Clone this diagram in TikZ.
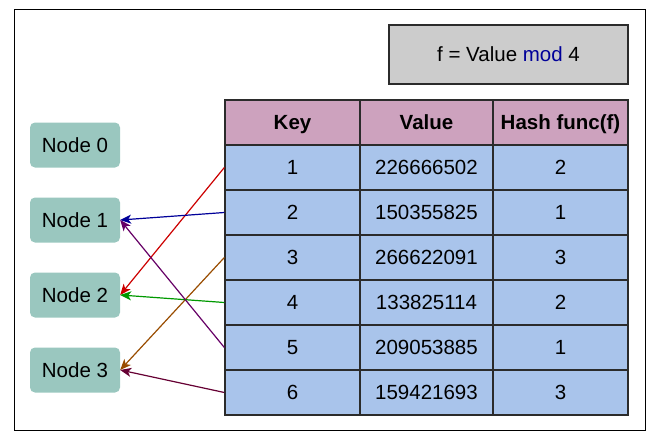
\documentclass[tikz,border=0pt]{standalone}
\usepackage{fontspec}
\setmainfont{Liberation Sans}
\usetikzlibrary{arrows.meta}
\definecolor{hdrfill}{HTML}{CDA2BE}
\definecolor{rowfill}{HTML}{A9C4EB}
\definecolor{nodefill}{HTML}{9AC7BF}
\definecolor{gridline}{HTML}{2B2B2B}
\definecolor{fboxfill}{HTML}{CCCCCC}
\definecolor{modblue}{HTML}{000099}
\definecolor{cred}{HTML}{CC0000}
\definecolor{cblue}{HTML}{000099}
\definecolor{cbrown}{HTML}{994C00}
\definecolor{cgreen}{HTML}{009900}
\definecolor{cpurple}{HTML}{660066}
\definecolor{cmaroon}{HTML}{660033}
\tikzset{
  txt/.style={font=\fontsize{20.5}{24}\selectfont, text height=18pt, text depth=4pt},
  cell/.style={draw=gridline, line width=1.3pt, minimum width=#1, minimum height=45pt, inner sep=0pt, txt},
  hdr/.style={fill=hdrfill, font=\fontsize{20.5}{24}\selectfont\bfseries},
  row/.style={fill=rowfill},
  hnode/.style={fill=nodefill, rounded corners=5pt, minimum width=90pt, minimum height=45pt, inner sep=0pt, txt},
  link/.style={line width=1.2pt, -{Stealth[length=11pt,width=9pt,inset=3pt]}}
}
\begin{document}
\begin{tikzpicture}[x=1pt,y=-1pt]
\useasboundingbox (0,0) rectangle (661,444);
\draw[line width=1pt] (14,10) rectangle (645,430);
\node[draw=gridline, line width=1.3pt, fill=fboxfill, minimum width=239pt, minimum height=59pt, inner sep=0pt, txt] (formula) at (508.5,54.5) {f = Value \textcolor{modblue}{mod} 4};
% header
\node[cell=135pt, hdr] (hk) at (292.5,122.5) {Key};
\node[cell=133pt, hdr] (hv) at (426.5,122.5) {Value};
\node[cell=135pt, hdr] (hh) at (560.5,122.5) {Hash func(f)};
% rows
\foreach \i/\k/\v/\h in {1/1/226666502/2, 2/2/150355825/1, 3/3/266622091/3, 4/4/133825114/2, 5/5/209053885/1, 6/6/159421693/3}{
  \pgfmathsetmacro{\yy}{122.5+45*\i}
  \node[cell=135pt, row] (k\i) at (292.5,\yy) {\k};
  \node[cell=133pt, row] (v\i) at (426.5,\yy) {\v};
  \node[cell=135pt, row] (h\i) at (560.5,\yy) {\h};
}
% hash nodes
\node[hnode] (n0) at (75,145) {Node 0};
\node[hnode] (n1) at (75,220) {Node 1};
\node[hnode] (n2) at (75,295) {Node 2};
\node[hnode] (n3) at (75,370) {Node 3};
% links
\draw[link, cred] (k1.west) -- (n2.east);
\draw[link, cblue] (k2.west) -- (n1.east);
\draw[link, cbrown] (k3.west) -- (n3.east);
\draw[link, cgreen] (k4.west) -- (n2.east);
\draw[link, cpurple] (k5.west) -- (n1.east);
\draw[link, cmaroon] (k6.west) -- (n3.east);
\end{tikzpicture}
\end{document}
